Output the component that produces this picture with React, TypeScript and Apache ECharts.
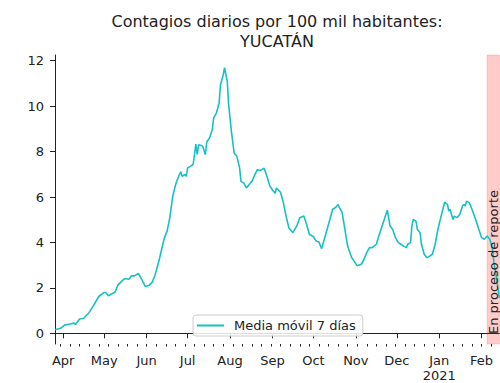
import React, { useEffect, useRef } from "react";
import * as echarts from "echarts";

const dates = [
  "2020-03-26", "2020-03-30", "2020-04-02", "2020-04-06", "2020-04-09", "2020-04-10",
  "2020-04-13", "2020-04-16", "2020-04-20", "2020-04-23", "2020-04-27", "2020-05-01",
  "2020-05-02", "2020-05-04", "2020-05-07", "2020-05-09", "2020-05-11", "2020-05-14",
  "2020-05-16", "2020-05-19", "2020-05-21", "2020-05-23", "2020-05-26", "2020-05-27",
  "2020-05-29", "2020-05-31", "2020-06-03", "2020-06-05", "2020-06-07", "2020-06-10",
  "2020-06-12", "2020-06-14", "2020-06-16", "2020-06-18", "2020-06-20", "2020-06-22",
  "2020-06-23", "2020-06-25", "2020-06-26", "2020-06-27", "2020-06-29", "2020-06-30",
  "2020-07-01", "2020-07-03", "2020-07-05", "2020-07-06", "2020-07-07", "2020-07-08",
  "2020-07-09", "2020-07-11", "2020-07-12", "2020-07-14", "2020-07-15", "2020-07-17",
  "2020-07-19", "2020-07-20", "2020-07-22", "2020-07-24", "2020-07-25", "2020-07-27",
  "2020-07-28", "2020-07-30", "2020-07-31", "2020-08-02", "2020-08-04", "2020-08-06",
  "2020-08-08", "2020-08-09", "2020-08-11", "2020-08-13", "2020-08-15", "2020-08-17",
  "2020-08-19", "2020-08-21", "2020-08-23", "2020-08-25", "2020-08-26", "2020-08-28",
  "2020-08-30", "2020-09-01", "2020-09-03", "2020-09-04", "2020-09-07", "2020-09-09",
  "2020-09-11", "2020-09-13", "2020-09-16", "2020-09-19", "2020-09-21", "2020-09-24",
  "2020-09-26", "2020-09-28", "2020-10-01", "2020-10-03", "2020-10-05", "2020-10-07",
  "2020-10-10", "2020-10-13", "2020-10-15", "2020-10-17", "2020-10-19", "2020-10-20",
  "2020-10-22", "2020-10-24", "2020-10-26", "2020-10-29", "2020-11-02", "2020-11-05",
  "2020-11-07", "2020-11-09", "2020-11-11", "2020-11-13", "2020-11-16", "2020-11-18",
  "2020-11-21", "2020-11-23", "2020-11-24", "2020-11-25", "2020-11-26", "2020-11-28",
  "2020-11-30", "2020-12-02", "2020-12-04", "2020-12-06", "2020-12-08", "2020-12-09",
  "2020-12-11", "2020-12-12", "2020-12-13", "2020-12-15", "2020-12-16", "2020-12-18",
  "2020-12-19", "2020-12-21", "2020-12-23", "2020-12-25", "2020-12-27", "2020-12-29",
  "2020-12-31", "2021-01-03", "2021-01-05", "2021-01-07", "2021-01-08", "2021-01-09",
  "2021-01-11", "2021-01-12", "2021-01-14", "2021-01-16", "2021-01-18", "2021-01-19",
  "2021-01-20", "2021-01-21", "2021-01-23", "2021-01-25", "2021-01-28", "2021-01-30",
  "2021-02-01", "2021-02-03", "2021-02-05", "2021-02-07", "2021-02-09", "2021-02-10",
  "2021-02-12", "2021-02-14",
];

const values = [
  0.16, 0.22, 0.36, 0.41, 0.45, 0.39,
  0.63, 0.66, 0.92, 1.21, 1.62, 1.8,
  1.8, 1.65, 1.75, 1.82, 2.12, 2.31,
  2.41, 2.38, 2.53, 2.53, 2.63, 2.53,
  2.31, 2.06, 2.12, 2.24, 2.53, 3.18,
  3.7, 4.2, 4.5, 5.1, 6.0, 6.5,
  6.69, 6.99, 7.11, 6.91, 6.99, 6.91,
  7.28, 7.35, 7.43, 7.86, 8.33, 7.86,
  8.3, 8.27, 8.23, 7.86, 8.42, 8.6,
  8.96, 9.47, 9.69, 10.13, 10.93, 11.37,
  11.69, 11.08, 10.06, 8.89, 7.94, 7.79,
  7.28, 6.69, 6.62, 6.4, 6.55, 6.69,
  6.96, 7.21, 7.16, 7.24, 7.26, 6.91,
  6.5, 6.31, 6.16, 6.4, 6.2, 5.75,
  5.16, 4.65, 4.43, 4.75, 5.09, 5.16,
  4.79, 4.36, 4.25, 4.06, 4.02, 3.73,
  4.36, 5.01, 5.45, 5.53, 5.67, 5.53,
  5.31, 4.57, 3.84, 3.33, 2.97, 3.04,
  3.26, 3.55, 3.77, 3.77, 3.92, 4.32,
  4.87, 5.23, 5.42, 5.09, 4.72, 4.57,
  4.21, 3.99, 3.92, 3.84, 3.77, 3.92,
  3.99, 4.72, 5.01, 4.94, 4.57, 4.43,
  3.92, 3.48, 3.33, 3.4, 3.48, 3.92,
  4.57, 5.31, 5.77, 5.67, 5.38, 5.45,
  5.01, 5.16, 5.09, 5.23, 5.6, 5.67,
  5.6, 5.82, 5.75, 5.45, 4.94, 4.57,
  4.21, 4.14, 4.28, 4.14, 3.7, 3.11,
  2.38, 1.55,
];

const monthTicks = [
  "2020-04-01", "2020-05-01", "2020-06-01", "2020-07-01", "2020-08-01", "2020-09-01",
  "2020-10-01", "2020-11-01", "2020-12-01", "2021-01-01", "2021-02-01",
];
const monthLabels = ["Apr", "May", "Jun", "Jul", "Aug", "Sep", "Oct", "Nov", "Dec", "Jan\n2021", "Feb"];
const yTicks = [0, 2, 4, 6, 8, 10, 12];

const xStart = "2020-03-26";
const xEnd = "2021-02-14";
const spanStart = "2021-02-05";

const titleLine1 = "Contagios diarios por 100 mil habitantes:";
const titleLine2 = "YUCATÁN";
const seriesName = "Media móvil 7 días";
const spanLabel = "En proceso de reporte";

const ts = (d: string) => Date.parse(d + "T00:00:00Z");
const DAY = 86400000;

const FONT = "DejaVu Sans";
const INK = "#222222";
const LINE_COLOR = "#17c0c6";

export default function App() {
  const ref = useRef<HTMLDivElement>(null);

  useEffect(() => {
    document.body.style.margin = "0";
    if (!ref.current) return;
    const chart = echarts.init(ref.current, null, { renderer: "svg" });

    const xmin = ts(xStart);
    const xmax = ts(xEnd);
    const monthVals = monthTicks.map(ts);
    const labelMap: Record<number, string> = {};
    monthVals.forEach((v, i) => (labelMap[v] = monthLabels[i]));

    // weekly minor ticks (Mondays)
    const mondays: number[] = [];
    for (let t = xmin; t <= xmax; t += DAY) {
      if (new Date(t).getUTCDay() === 1) mondays.push(t);
    }

    const data = dates.map((d, i) => [ts(d), values[i]]);

    chart.setOption({
      animation: false,
      grid: { left: 55, right: 0.6, top: 55, bottom: 38, containLabel: false },
      legend: {
        show: true,
        data: [seriesName],
        left: 193,
        top: 315,
        orient: "horizontal",
        icon: "rect",
        itemWidth: 27,
        itemHeight: 2,
        padding: [4, 7, 4, 4],
        borderColor: "#cccccc",
        borderWidth: 1,
        borderRadius: 3,
        backgroundColor: "rgba(255,255,255,0.85)",
        textStyle: { fontFamily: FONT, fontSize: 13, color: INK, padding: [0, 0, 0, 5] },
      },
      xAxis: [
        {
          type: "value",
          min: xmin,
          max: xmax,
          position: "bottom",
          axisLine: { show: true, lineStyle: { color: INK, width: 1 } },
          axisTick: { show: true, length: 5, customValues: monthVals, lineStyle: { color: INK } },
          axisLabel: {
            show: true,
            customValues: monthVals,
            margin: 9,
            fontFamily: FONT,
            fontSize: 13,
            color: INK,
            lineHeight: 15,
            formatter: (v: number) => labelMap[v] ?? "",
          },
          splitLine: { show: false },
        },
        {
          type: "value",
          min: xmin,
          max: xmax,
          position: "bottom",
          axisLine: { show: false },
          axisTick: { show: true, length: 2.5, customValues: mondays, lineStyle: { color: INK } },
          axisLabel: { show: false, customValues: mondays },
          splitLine: { show: false },
        },
      ],
      yAxis: {
        type: "value",
        min: -0.47,
        max: 12.25,
        axisLine: { show: true, lineStyle: { color: INK, width: 1 } },
        axisTick: { show: true, length: 5, customValues: yTicks, lineStyle: { color: INK } },
        axisLabel: {
          show: true,
          customValues: yTicks,
          margin: 11,
          fontFamily: FONT,
          fontSize: 13,
          color: INK,
        },
        splitLine: { show: false },
      },
      series: [
        {
          name: seriesName,
          type: "line",
          xAxisIndex: 0,
          data,
          showSymbol: false,
          symbol: "none",
          smooth: false,
          lineStyle: { color: LINE_COLOR, width: 1.6 },
          itemStyle: { color: LINE_COLOR },
          z: 3,
          markArea: {
            silent: true,
            itemStyle: { color: "rgba(255,0,0,0.2)", borderColor: "rgba(255,0,0,0.15)", borderWidth: 1 },
            data: [[{ xAxis: ts(spanStart) }, { xAxis: xmax }]],
          },
        },
      ],
      graphic: [
        {
          type: "text",
          x: 277,
          y: 21,
          style: {
            text: titleLine1,
            font: `16px "${FONT}"`,
            fill: INK,
            textAlign: "center",
            textVerticalAlign: "middle",
          },
        },
        {
          type: "text",
          x: 277,
          y: 41,
          style: {
            text: titleLine2,
            font: `16px "${FONT}"`,
            fill: INK,
            textAlign: "center",
            textVerticalAlign: "middle",
          },
        },
        {
          type: "text",
          x: 493,
          y: 262,
          rotation: Math.PI / 2,
          z: 10,
          style: {
            text: spanLabel,
            font: `13px "${FONT}"`,
            fill: INK,
            textAlign: "center",
            textVerticalAlign: "middle",
          },
        },
      ],
    });

    return () => chart.dispose();
  }, []);

  return <div ref={ref} style={{ width: 500, height: 383 }} />;
}
